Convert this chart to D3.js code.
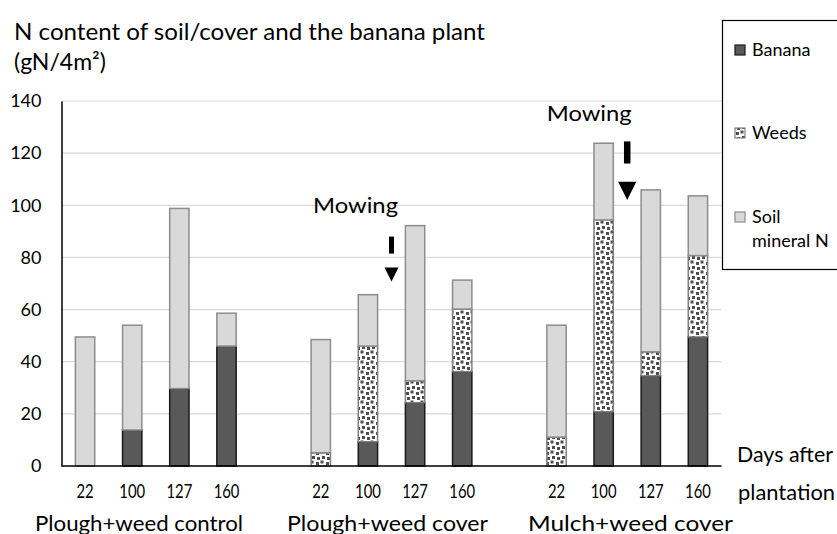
<!DOCTYPE html>
<html>
<head>
<meta charset="utf-8">
<script src="https://cdn.jsdelivr.net/npm/d3@7"></script>
<style>
  html, body { margin: 0; padding: 0; background: #fff; }
  svg { display: block; font-family: Lato, "Open Sans", sans-serif; }
</style>
</head>
<body>
<svg id="chart" width="837" height="534"></svg>
<script>
// Treatments, sampling dates (days after plantation) and N pools (gN/4m²)
const groups = ["Plough+weed control", "Plough+weed cover", "Mulch+weed cover"];
const days = ["22", "100", "127", "160"];
const banana = [
  [0, 13.8, 29.7, 46.0],
  [0, 9.3, 24.3, 36.2],
  [0, 20.8, 34.6, 49.5]
];
const weeds = [
  [0, 0, 0, 0],
  [5.1, 36.7, 8.4, 24.0],
  [11.1, 73.6, 9.2, 31.2]
];
const soilN = [
  [49.5, 40.2, 69.1, 12.6],
  [43.4, 19.7, 59.5, 11.1],
  [42.9, 29.4, 62.1, 22.9]
];
const yTicks = [0, 20, 40, 60, 80, 100, 120, 140];
const seriesNames = ["Banana", "Weeds", "Soil mineral N"];
// Mowing events: treatment index, the two dates it falls between,
// top of the arrow and label height (in gN/4m²)
const mowing = [
  { group: 1, between: ["100", "127"], arrowTop: 88, label: 97.2, size: 1 },
  { group: 2, between: ["100", "127"], arrowTop: 124.5, label: 132.3, size: 1.3 }
];

const svg = d3.select("#chart");

const plot = { left: 61.5, right: 721.5, top: 101, bottom: 466 };

// Slots: four dates per treatment, one empty slot between treatments
const slots = [];
groups.forEach((g, gi) => {
  if (gi > 0) slots.push("gap" + gi);
  days.forEach(d => slots.push(gi + "|" + d));
});

const x = d3.scaleBand()
  .domain(slots)
  .range([plot.left, plot.right])
  .paddingInner(0.59)
  .paddingOuter(0.295);

const y = d3.scaleLinear().domain([0, 140]).range([plot.bottom, plot.top]);

// Flat table for the stack layout
const rows = [];
groups.forEach((g, gi) => days.forEach((d, di) => rows.push({
  key: gi + "|" + d, banana: banana[gi][di], weeds: weeds[gi][di], soil: soilN[gi][di]
})));
const stack = d3.stack().keys(["banana", "weeds", "soil"])(rows);

// Confetti pattern for the weeds
const defs = svg.append("defs");
const pat = defs.append("pattern")
  .attr("id", "confetti").attr("patternUnits", "userSpaceOnUse")
  .attr("width", 10).attr("height", 10);
pat.append("rect").attr("width", 10).attr("height", 10).attr("fill", "#fff");
[[0.5, 0.5], [6, 2], [2, 6], [7, 7]].forEach(([px, py]) =>
  pat.append("rect").attr("x", px).attr("y", py).attr("width", 3).attr("height", 3).attr("fill", "#4d4d4d"));

const fills = { banana: "#595959", weeds: "url(#confetti)", soil: "#d9d9d9" };
const strokes = { banana: "#1a1a1a", weeds: "#7f7f7f", soil: "#8c8c8c" };

// Gridlines
svg.append("g").selectAll("line").data(yTicks.filter(t => t > 0)).join("line")
  .attr("x1", plot.left).attr("x2", plot.right)
  .attr("y1", d => y(d)).attr("y2", d => y(d))
  .attr("stroke", "#d9d9d9").attr("stroke-width", 1.2);

// Bars
svg.append("g").selectAll("g").data(stack).join("g")
  .attr("fill", d => fills[d.key]).attr("stroke", d => strokes[d.key])
  .selectAll("rect").data(d => d.filter(s => s[1] - s[0] > 0)).join("rect")
  .attr("x", d => x(d.data.key))
  .attr("width", x.bandwidth())
  .attr("y", d => y(d[1]))
  .attr("height", d => y(d[0]) - y(d[1]))
  .attr("stroke-width", 1.5);

// Y axis
const yAxis = svg.append("g").attr("transform", `translate(${plot.left},0)`)
  .call(d3.axisLeft(y).tickValues(yTicks).tickSize(0).tickPadding(20));
yAxis.select(".domain").attr("stroke", "#000").attr("stroke-width", 1.5);
yAxis.selectAll("text").attr("font-family", "Lato, sans-serif").attr("font-size", 18).attr("fill", "#000");

// X axis (date labels, condensed)
const xAxis = svg.append("g").attr("transform", `translate(0,${plot.bottom})`)
  .call(d3.axisBottom(x).tickValues(slots.filter(s => !s.startsWith("gap")))
    .tickFormat(s => s.split("|")[1]).tickSize(0).tickPadding(19));
xAxis.select(".domain").remove();
xAxis.selectAll("text").attr("font-family", "Lato, sans-serif").attr("font-size", 19)
  .attr("fill", "#000").attr("transform", "scale(0.78,1)");

svg.append("line")
  .attr("x1", plot.left).attr("x2", plot.right)
  .attr("y1", plot.bottom).attr("y2", plot.bottom)
  .attr("stroke", "#000").attr("stroke-width", 1.5);

// Treatment labels
const groupLabelX = [35, 287, 528];
const groupLabelW = [208, 201, 205];
svg.append("g").selectAll("text").data(groups).join("text")
  .attr("x", (d, i) => groupLabelX[i]).attr("y", 531)
  .attr("font-size", 21).attr("textLength", (d, i) => groupLabelW[i])
  .attr("lengthAdjust", "spacingAndGlyphs")
  .text(d => d);

// Axis titles
svg.append("text").attr("x", 14).attr("y", 40).attr("font-size", 23)
  .attr("textLength", 471).attr("lengthAdjust", "spacingAndGlyphs")
  .text("N content of soil/cover and the banana plant");
svg.append("text").attr("x", 14).attr("y", 70).attr("font-size", 23)
  .text("(gN/4m²)");
svg.append("text").attr("x", 737).attr("y", 462).attr("font-size", 21)
  .attr("textLength", 96).attr("lengthAdjust", "spacingAndGlyphs").text("Days after");
svg.append("text").attr("x", 738).attr("y", 500).attr("font-size", 21)
  .attr("textLength", 97).attr("lengthAdjust", "spacingAndGlyphs").text("plantation");

// Mowing annotations: bar + downward triangle, label above-left
mowing.forEach((m, i) => {
  const cx = (x(m.group + "|" + m.between[0]) + x(m.group + "|" + m.between[1]) + x.bandwidth()) / 2;
  const s = m.size;
  const g = svg.append("g");
  const y0 = y(m.arrowTop);
  g.append("rect").attr("x", cx - 2.5 * s).attr("y", y0).attr("width", 5 * s).attr("height", 17 * s).attr("fill", "#000");
  const ty = y0 + 31 * s;
  g.append("path").attr("d", `M${cx - 7 * s},${ty} L${cx + 7 * s},${ty} L${cx},${ty + 14 * s} Z`).attr("fill", "#000");
  g.append("text").attr("x", cx - (i === 0 ? 36 : 38))
    .attr("y", y(m.label))
    .attr("font-size", 21).attr("text-anchor", "middle")
    .attr("textLength", 85).attr("lengthAdjust", "spacingAndGlyphs")
    .text("Mowing");
});

// Legend
const legend = svg.append("g");
legend.append("rect").attr("x", 722.5).attr("y", 20.5).attr("width", 130).attr("height", 249)
  .attr("fill", "#fff").attr("stroke", "#000").attr("stroke-width", 1.2);
const legKeys = ["banana", "weeds", "soil"];
const legY = [50, 133, 217];
legKeys.forEach((k, i) => {
  legend.append("rect").attr("x", 735).attr("y", legY[i] - 5).attr("width", 10).attr("height", 10)
    .attr("fill", fills[k]).attr("stroke", strokes[k]).attr("stroke-width", 1.2);
});
legend.append("text").attr("x", 752).attr("y", 56).attr("font-size", 18).text(seriesNames[0]);
legend.append("text").attr("x", 752).attr("y", 139).attr("font-size", 18).text(seriesNames[1]);
legend.append("text").attr("x", 752).attr("y", 223).attr("font-size", 18).text("Soil");
legend.append("text").attr("x", 752).attr("y", 247).attr("font-size", 18).text("mineral N");
</script>
</body>
</html>
